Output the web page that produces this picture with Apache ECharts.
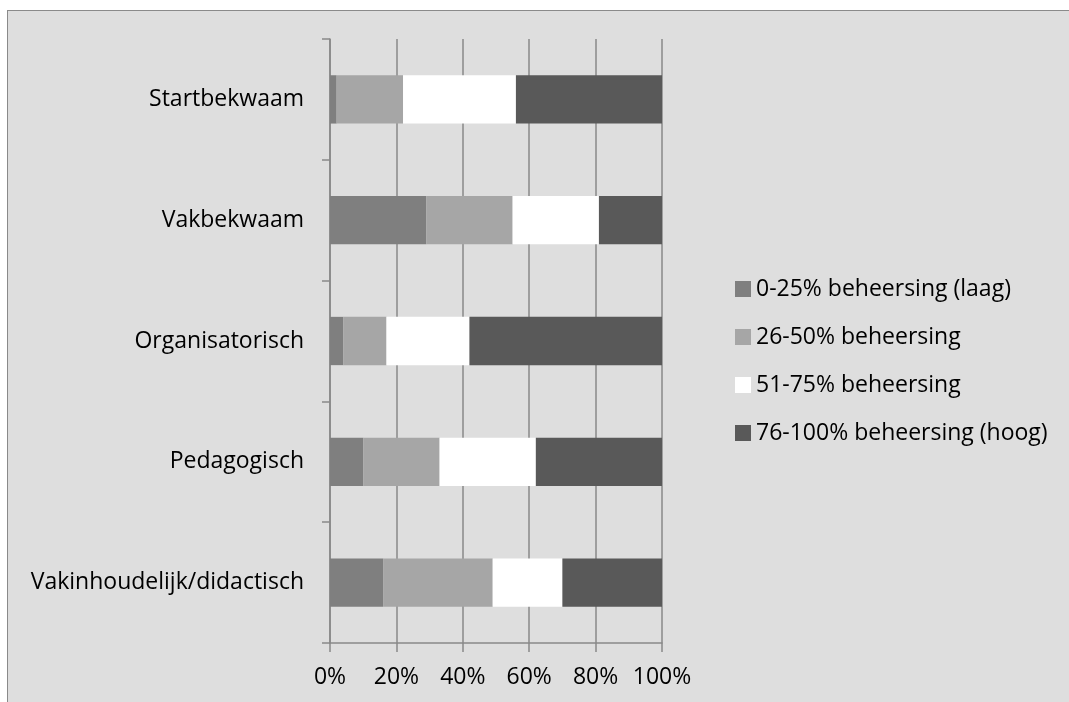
<!DOCTYPE html>
<html>
<head>
<meta charset="utf-8">
<script src="https://cdn.jsdelivr.net/npm/echarts@6/dist/echarts.min.js"></script>
<style>
  html, body { margin: 0; padding: 0; background: #ffffff; overflow: hidden; }
  #frame { position: absolute; left: 7px; top: 10px; width: 1100px; height: 740px;
           background: #dedede; border-left: 1px solid #8a8a8a; border-top: 1px solid #8a8a8a; }
  #chart { position: absolute; left: 0; top: 0; width: 1069px; height: 702px; }
</style>
</head>
<body>
<div id="frame"></div>
<div id="chart"></div>
<script>
// Competence domains, top to bottom
const categories = ['Startbekwaam', 'Vakbekwaam', 'Organisatorisch', 'Pedagogisch', 'Vakinhoudelijk/didactisch'];

// Mastery levels (legend order)
const levelNames = [
  '0-25% beheersing (laag)',
  '26-50% beheersing',
  '51-75% beheersing',
  '76-100% beheersing (hoog)'
];

// Share of respondents per level, in percent
const laag      = [2, 29, 4, 10, 16];
const midLaag   = [20, 26, 13, 23, 33];
const midHoog   = [34, 26, 25, 29, 21];
const hoog      = [44, 19, 58, 38, 30];

const levelValues = [laag, midLaag, midHoog, hoog];
const levelColors = ['#7f7f7f', '#a6a6a6', '#ffffff', '#595959'];

const xTicks = { min: 0, max: 100, interval: 20 };

const FONT = 'Open Sans';
const FONT_SIZE = 23;
const lineColor = '#898989';

const chart = echarts.init(document.getElementById('chart'), null, { renderer: 'canvas' });

chart.setOption({
  backgroundColor: 'transparent',
  animation: false,
  textStyle: { fontFamily: FONT },
  grid: { left: 330, right: 407, top: 39, bottom: 59, containLabel: false },
  legend: {
    orient: 'vertical',
    left: 730,
    top: 272,
    icon: 'rect',
    itemWidth: 16,
    itemHeight: 16,
    itemGap: 24,
    textStyle: { fontFamily: FONT, fontSize: FONT_SIZE, lineHeight: 24, color: '#000000' },
    data: levelNames
  },
  xAxis: {
    type: 'value',
    min: xTicks.min,
    max: xTicks.max,
    interval: xTicks.interval,
    axisLine: { show: true, lineStyle: { color: lineColor, width: 1.5 } },
    axisTick: { show: true, length: 9, lineStyle: { color: lineColor, width: 1.5 } },
    splitLine: { show: true, lineStyle: { color: lineColor, width: 1.5 } },
    axisLabel: { formatter: '{value}%', fontFamily: FONT, fontSize: FONT_SIZE, color: '#000000', margin: 23 }
  },
  yAxis: {
    type: 'category',
    inverse: true,
    data: categories,
    axisLine: { show: true, lineStyle: { color: lineColor, width: 1.5 } },
    axisTick: { show: true, length: 8, lineStyle: { color: lineColor, width: 1.5 } },
    splitLine: { show: false },
    axisLabel: { fontFamily: FONT, fontSize: FONT_SIZE, color: '#000000', margin: 26 }
  },
  series: levelNames.map((name, i) => ({
    name: name,
    type: 'bar',
    stack: 'totaal',
    barWidth: '40%',
    itemStyle: { color: levelColors[i] },
    data: levelValues[i]
  }))
});
</script>
</body>
</html>
